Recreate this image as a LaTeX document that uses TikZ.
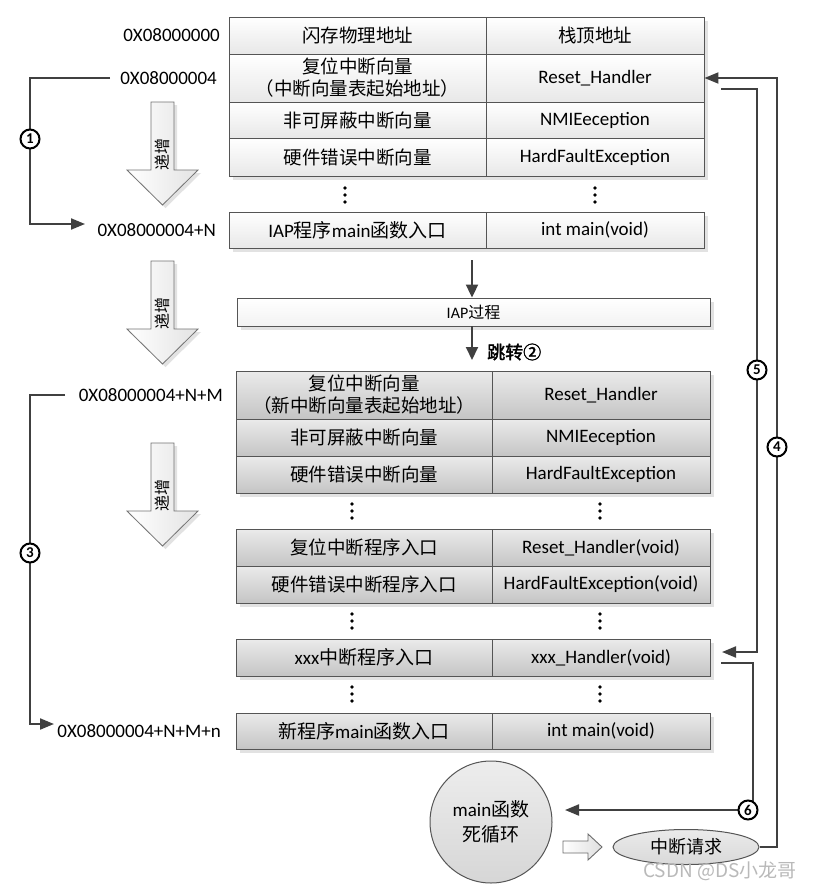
\documentclass[tikz,border=0pt]{standalone}
\usepackage{fontspec}
\setmainfont{Carlito}
\newfontfamily\cjk{Noto Sans CJK SC}
\newfontfamily\cjkb[FakeBold=2]{Noto Sans CJK SC}
\usetikzlibrary{arrows.meta,shapes.geometric}
\newcommand\zh[1]{{\cjk #1}}
\newcommand\lfs{\fontsize{19}{23}\selectfont}
\newcommand\cfs{\cjk\fontsize{18.5}{22}\selectfont}
\definecolor{linec}{HTML}{404040}
\definecolor{borderc}{HTML}{555555}
\definecolor{shadowc}{HTML}{E2E2E2}
\newcommand\bigarr[2]{%
  \fill[shadowc] (154,#1+3) -- (177,#1+3) -- (177,#1+71) -- (201,#1+71) -- (165.5,#1+106) -- (129,#1+71) -- (154,#1+71) -- cycle;
  \draw[draw=gray!90!black, line width=0.8pt, left color=white, right color=gray!22]
    (151,#1) -- (174,#1) -- (174,#1+68) -- (198,#1+68) -- (162.5,#1+103) -- (127,#1+68) -- (151,#1+68) -- cycle;
  \node[rotate=90, font=\cjk\fontsize{16}{16}\selectfont, inner sep=0pt] (#2) at (162.5,#1+52) {递增};}
\newcommand\vdot[2]{%
  \fill[black] (#1,#2-7) circle (1.8) (#1,#2) circle (1.8) (#1,#2+7) circle (1.8);}
\begin{document}
\begin{tikzpicture}[x=1pt,y=-1pt,
  conn/.style={draw=linec, line width=2pt, -{Triangle[length=14pt,width=11pt]}},
  wcell/.style={draw=borderc, line width=0.9pt, top color=white, bottom color=black!9, inner sep=0pt, align=center, font=\lfs},
  gcell/.style={draw=borderc, line width=0.9pt, top color=black!8, bottom color=black!23, inner sep=0pt, align=center, font=\lfs},
  wa/.style={wcell, minimum width=257},
  wb/.style={wcell, minimum width=218},
  ga/.style={gcell, minimum width=256},
  gb/.style={gcell, minimum width=218},
  addr/.style={font=\lfs, inner sep=1pt, anchor=east},
  num/.style={circle, draw=black, line width=2pt, fill=white, minimum size=19pt, inner sep=0pt, font=\bfseries\fontsize{15}{15}\selectfont},
]
\fill[white] (0,0) rectangle (813,889);
\useasboundingbox (0,0) rectangle (813,889);

% shadows of table blocks
\fill[shadowc] (233,21) rectangle (708,180);
\fill[shadowc] (233,216) rectangle (708,252);
\fill[shadowc] (241,302) rectangle (714,330);
\fill[shadowc] (240,375) rectangle (714,497);
\fill[shadowc] (240,533) rectangle (714,607);
\fill[shadowc] (240,643) rectangle (714,680);
\fill[shadowc] (240,717) rectangle (714,753);

% top table
\node[wa, minimum height=37, font=\cfs] (a1) at (357.5,35.5) {闪存物理地址};
\node[wb, minimum height=37, font=\cfs] (b1) at (595,35.5) {栈顶地址};
\node[wa, minimum height=48, font=\cfs] (a2) at (357.5,78) {复位中断向量\\（中断向量表起始地址）};
\node[wb, minimum height=48] (b2) at (595,78) {Reset\_Handler};
\node[wa, minimum height=36, font=\cfs] (a3) at (357.5,120) {非可屏蔽中断向量};
\node[wb, minimum height=36] (b3) at (595,120) {NMIEeception};
\node[wa, minimum height=38, font=\cfs] (a4) at (357.5,157) {硬件错误中断向量};
\node[wb, minimum height=38] (b4) at (595,157) {HardFaultException};
\vdot{345}{195}\vdot{595}{195}
\node[wa, minimum height=36] (a5) at (357.5,230) {IAP\zh{程序}main\zh{函数入口}};
\node[wb, minimum height=36] (b5) at (595,230) {int main(void)};

% IAP process
\node[draw=borderc, line width=0.9pt, top color=white, bottom color=black!5, minimum width=473, minimum height=28, inner sep=0pt, font=\fontsize{16}{16}\selectfont] (iap) at (473.5,312) {IAP\zh{过程}};
\coordinate (i0) at (472,260);
\coordinate (g0) at (472,360);
\draw[conn, -{Triangle[length=13pt,width=12pt]}] (i0) -- (i0 |- iap.north);
\draw[conn, -{Triangle[length=13pt,width=12pt]}] (i0 |- iap.south) -- (g0);
\node[font=\cjkb\fontsize{18}{18}\selectfont, anchor=west, inner sep=0pt] (jump) at (487,352) {跳转②};

% gray table
\node[ga, minimum height=48, font=\cfs] (c1) at (364,395) {复位中断向量\\（新中断向量表起始地址）};
\node[gb, minimum height=48] (d1) at (601,395) {Reset\_Handler};
\node[ga, minimum height=37, font=\cfs] (c2) at (364,437.5) {非可屏蔽中断向量};
\node[gb, minimum height=37] (d2) at (601,437.5) {NMIEeception};
\node[ga, minimum height=37, font=\cfs] (c3) at (364,474.5) {硬件错误中断向量};
\node[gb, minimum height=37] (d3) at (601,474.5) {HardFaultException};
\vdot{352}{511}\vdot{600}{511}
\node[ga, minimum height=37, font=\cfs] (c4) at (364,547.5) {复位中断程序入口};
\node[gb, minimum height=37] (d4) at (601,547.5) {Reset\_Handler(void)};
\node[ga, minimum height=37, font=\cfs] (c5) at (364,584.5) {硬件错误中断程序入口};
\node[gb, minimum height=37] (d5) at (601,584.5) {HardFaultException(void)};
\vdot{352}{621}\vdot{600}{621}
\node[ga, minimum height=37] (c6) at (364,657.5) {xxx\zh{中断程序入口}};
\node[gb, minimum height=37] (d6) at (601,657.5) {xxx\_Handler(void)};
\vdot{352}{694}\vdot{600}{694}
\node[ga, minimum height=36] (c7) at (364,731) {\zh{新程序}main\zh{函数入口}};
\node[gb, minimum height=36] (d7) at (601,731) {int main(void)};

% address labels
\node[addr] (L0) at (221,35) {0X08000000};
\node[addr] (L1) at (218,78) {0X08000004};
\node[addr] (L2) at (217,230) {0X08000004+N};
\node[addr] (L3) at (224,395) {0X08000004+N+M};
\node[addr] (L4) at (222,731) {0X08000004+N+M+n};

% increasing arrows
\bigarr{102}{up1}
\bigarr{261}{up2}
\bigarr{443}{up3}

% main loop circle and interrupt request
\node[circle, draw=borderc, line width=1pt, minimum size=122, inner sep=0pt, top color=gray!14, bottom color=gray!32, align=center, font=\fontsize{19}{25}\selectfont] (mc) at (491,822) {main\zh{函数}\\\zh{死循环}};
\node[ellipse, draw=borderc, line width=1pt, minimum width=146, minimum height=35, inner sep=0pt, top color=gray!16, bottom color=gray!30, font=\cjk\fontsize{18}{18}\selectfont] (ell) at (686,847) {中断请求};
\draw[draw=gray!85!black, line width=0.9pt, left color=white, right color=gray!25]
  (563,841) -- (588,841) -- (588,834) -- (602,847) -- (588,860) -- (588,853) -- (563,853) -- cycle;

% connector 1
\coordinate (s1) at (110,78);
\coordinate (k1) at (30,139);
\coordinate (e1) at (85,224);
\draw[conn] (s1) -| (k1) |- (e1);
\node[num] (n1) at (k1) {1};

% connector 3
\coordinate (s3) at (65,395);
\coordinate (k3) at (30,553);
\coordinate (e3) at (54,724);
\draw[conn] (s3) -| (k3) |- (e3);
\node[num] (n3) at (k3) {3};

% connector 4
\coordinate (k4) at (777,447);
\draw[conn] (ell.east) -| (k4) |- (b2.east);
\node[num] (n4) at (k4) {4};

% connector 5
\coordinate (s5) at (721,89);
\coordinate (k5) at (757,370);
\coordinate (e5) at (722,652);
\draw[conn] (s5) -| (k5) |- (e5);
\node[num] (n5) at (k5) {5};

% connector 6
\coordinate (s6) at (721,663);
\coordinate (k6) at (753,810);
\coordinate (e6) at (565,810);
\draw[conn] (s6) -| (k6) -- (e6);
\node[num] (n6) at (748,810) {6};

% watermark
\node[font=\cjk\fontsize{19}{19}\selectfont, text=gray!55, anchor=west, inner sep=0pt] (wm) at (643,871) {CSDN @DS小龙哥};
\end{tikzpicture}
\end{document}
